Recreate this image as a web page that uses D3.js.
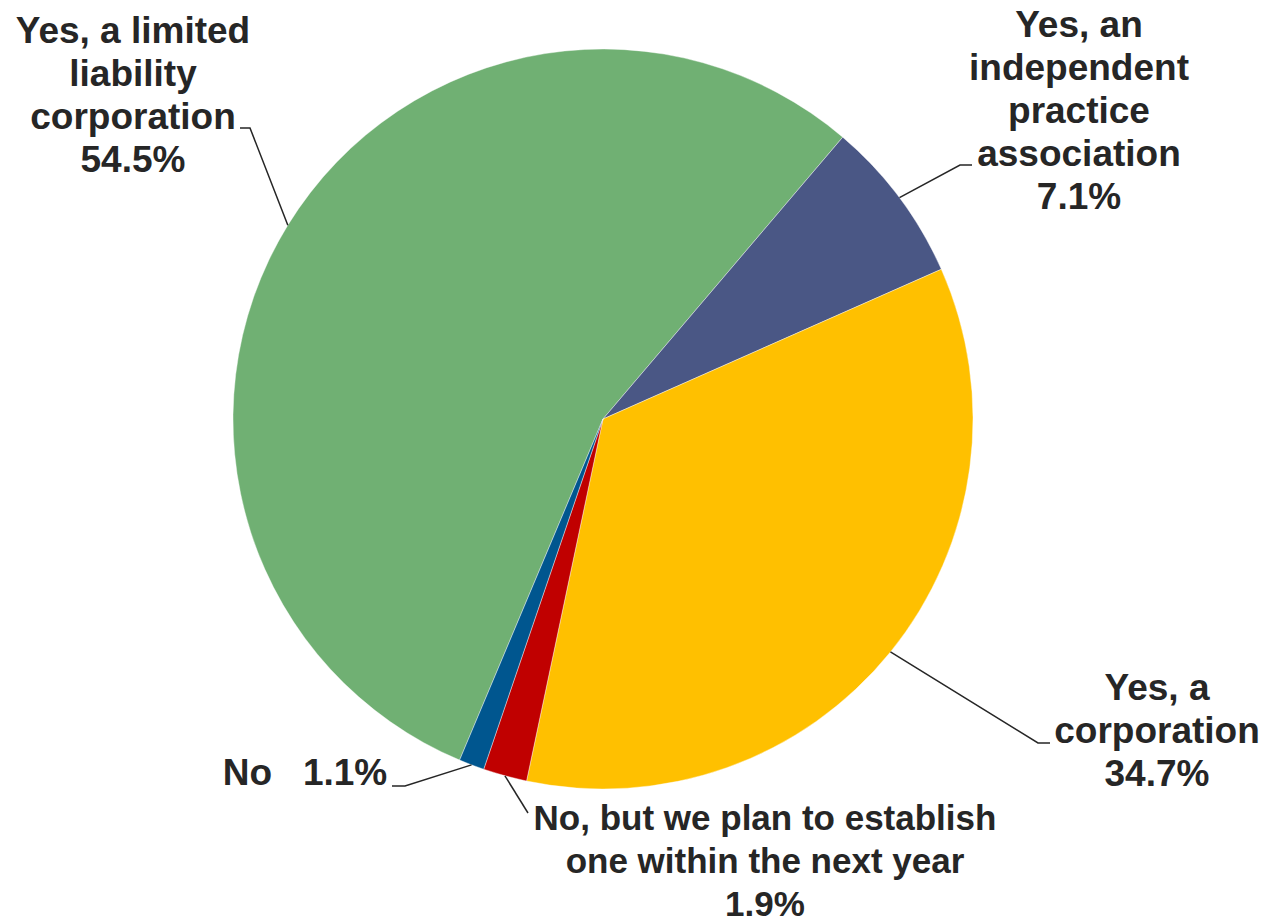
<!DOCTYPE html>
<html>
<head>
<meta charset="utf-8">
<script src="https://cdn.jsdelivr.net/npm/d3@7"></script>
<style>
  html, body { margin: 0; padding: 0; background: #ffffff; }
  svg { display: block; }
  text { font-family: "Liberation Sans", Arial, sans-serif; font-weight: bold; fill: #262626; }
</style>
</head>
<body>
<svg id="chart" width="1265" height="923"></svg>
<script>
// Survey responses: does the practice have a legal entity?
const categories = [
  "Yes, a limited liability corporation",
  "Yes, an independent practice association",
  "Yes, a corporation",
  "No, but we plan to establish one within the next year",
  "No"
];
const values = [54.5, 7.1, 34.7, 1.9, 1.1];
const colors = ["#70B073", "#4A5785", "#FFC000", "#C00000", "#00568F"];

// Label text lines (last line holds the percentage)
const labelLines = [
  ["Yes, a limited", "liability", "corporation", "54.5%"],
  ["Yes, an", "independent", "practice", "association", "7.1%"],
  ["Yes, a", "corporation", "34.7%"],
  ["No, but we plan to establish", "one within the next year", "1.9%"],
  ["No   1.1%"]
];

// Layout of the labels: text block centre x, first baseline y, font size,
// and the elbow/end points of each leader line
const labelLayout = [
  { x: 133, y: 43,  size: 37, elbow: [250, 128], end: [240, 128] },
  { x: 1079, y: 37, size: 37, elbow: [960, 165], end: [972, 165] },
  { x: 1157, y: 700, size: 37, elbow: [1038, 743], end: [1050, 743] },
  { x: 765, y: 830, size: 35, elbow: [528, 813], end: [528, 813] },
  { x: 305, y: 785, size: 37, elbow: [405, 786], end: [392, 786] }
];

const cx = 603, cy = 419, radius = 370;
const lineHeight = 43;
const deg = Math.PI / 180;
const startAngle = -157.2 * deg;

const svg = d3.select("#chart");
const g = svg.append("g").attr("transform", `translate(${cx},${cy})`);

const pie = d3.pie()
  .sort(null)
  .value(d => d.value)
  .startAngle(startAngle)
  .endAngle(startAngle + 2 * Math.PI);

const data = categories.map((c, i) => ({ name: c, value: values[i], color: colors[i], lines: labelLines[i], layout: labelLayout[i] }));
const arcs = pie(data);

const arc = d3.arc().innerRadius(0).outerRadius(radius);

g.selectAll("path.slice")
  .data(arcs)
  .join("path")
  .attr("class", "slice")
  .attr("d", arc)
  .attr("fill", d => d.data.color)
  .attr("stroke", "#ffffff")
  .attr("stroke-width", 0.4);

// Leader lines from the slice's mid-angle on the rim to the label
const leaders = svg.append("g");
arcs.forEach(d => {
  const mid = (d.startAngle + d.endAngle) / 2;
  const px = cx + Math.sin(mid) * radius;
  const py = cy - Math.cos(mid) * radius;
  const L = d.data.layout;
  leaders.append("polyline")
    .attr("points", [[px, py], L.elbow, L.end].map(p => p.join(",")).join(" "))
    .attr("fill", "none")
    .attr("stroke", "#262626")
    .attr("stroke-width", 1.5);
});

// Labels
const labels = svg.append("g");
arcs.forEach(d => {
  const L = d.data.layout;
  const t = labels.append("text")
    .attr("text-anchor", "middle")
    .attr("font-size", L.size)
    .attr("xml:space", "preserve")
    .style("white-space", "pre");
  d.data.lines.forEach((ln, i) => {
    t.append("tspan")
      .attr("x", L.x)
      .attr("y", L.y + i * lineHeight)
      .text(ln);
  });
});
</script>
</body>
</html>
